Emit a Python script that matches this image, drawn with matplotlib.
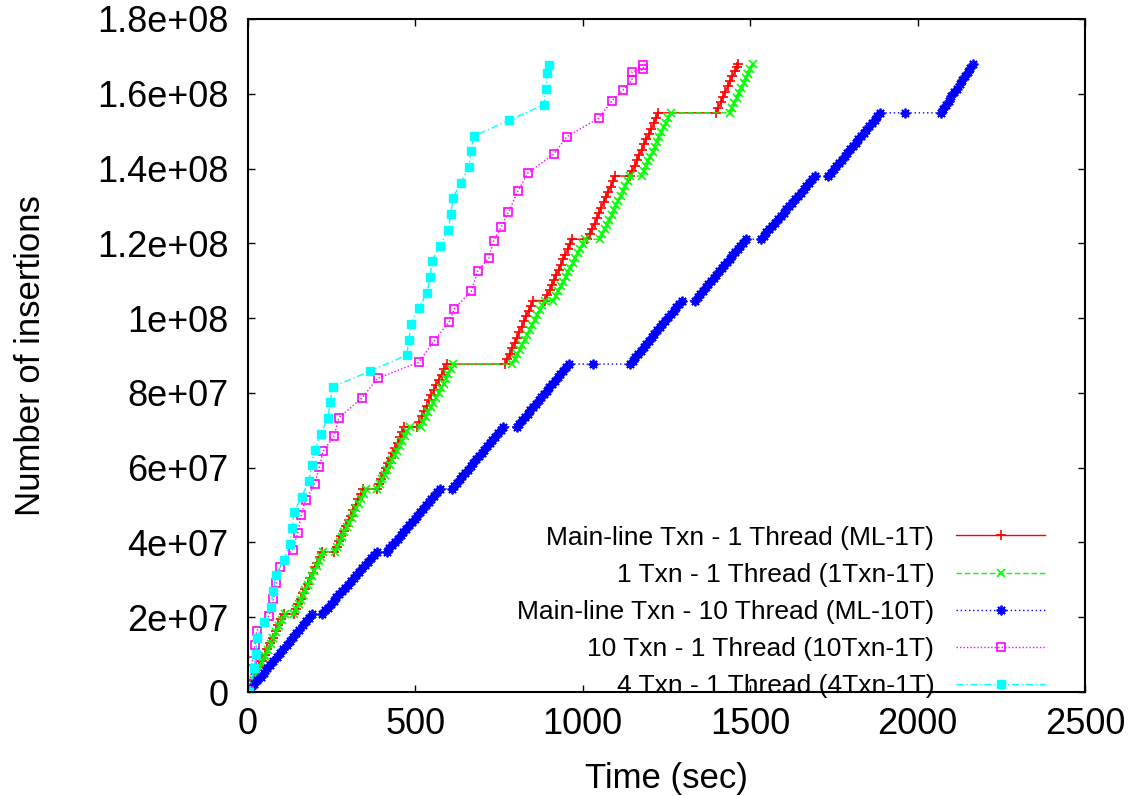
import numpy as np
import matplotlib.pyplot as plt

plt.rcParams['font.family'] = ['Liberation Sans', 'DejaVu Sans']

# insertions are kept in millions, time in seconds
ml1t_t = [0, 8, 16, 24, 33, 41, 50, 58, 66, 74, 83, 91, 99, 107, 136,
          143, 150, 157, 164, 171, 178, 186, 193, 200, 207, 214, 221, 258,
          265, 272, 279, 286, 294, 301, 308, 315, 322, 330, 337, 344, 384,
          391, 398, 405, 412, 419, 426, 433, 440, 447, 454, 460, 467, 504,
          511, 519, 526, 534, 541, 548, 556, 563, 571, 578, 586, 593, 768,
          775, 782, 789, 796, 803, 810, 817, 824, 831, 838, 845, 852, 887,
          894, 901, 907, 914, 921, 928, 934, 941, 948, 955, 961, 968, 1014,
          1021, 1028, 1035, 1042, 1049, 1055, 1062, 1069, 1076, 1083, 1090, 1097, 1141,
          1148, 1155, 1162, 1169, 1176, 1183, 1190, 1198, 1205, 1212, 1219, 1226, 1398,
          1405, 1412, 1419, 1426, 1433, 1440, 1447, 1454, 1460, 1465]
ml1t_y = [0, 1.5, 3.2, 4.8, 6.6, 8.2, 9.9, 11.4, 13.0, 14.5, 16.3, 17.8, 19.4, 20.9, 20.9,
          22.3, 23.6, 25.0, 26.4, 27.6, 29.0, 30.5, 31.9, 33.3, 34.6, 36.1, 37.5, 37.5,
          38.9, 40.3, 41.6, 43.0, 44.5, 45.9, 47.2, 48.6, 50.0, 51.5, 52.9, 54.3, 54.3,
          55.7, 57.1, 58.5, 59.8, 61.2, 62.6, 64.0, 65.3, 66.7, 68.1, 69.5, 70.9, 70.9,
          72.3, 73.7, 75.1, 76.6, 78.0, 79.4, 80.8, 82.1, 83.5, 84.9, 86.3, 87.7, 87.7,
          89.1, 90.5, 91.9, 93.4, 94.8, 96.2, 97.6, 99.1, 100.5, 101.9, 103.3, 104.7, 104.7,
          106.1, 107.4, 108.8, 110.2, 111.6, 112.9, 114.3, 115.7, 117.0, 118.4, 119.8, 121.1, 121.1,
          122.5, 123.9, 125.3, 126.7, 128.1, 129.5, 131.0, 132.4, 133.8, 135.2, 136.6, 138.0, 138.0,
          139.4, 140.8, 142.2, 143.6, 145.0, 146.5, 147.9, 149.3, 150.7, 152.1, 153.5, 154.9, 154.9,
          156.3, 157.7, 159.2, 160.6, 162.0, 163.4, 164.7, 166.0, 167.2, 168.0]

txn1_t = [0, 8, 17, 25, 34, 42, 51, 59, 68, 76, 85, 93, 102, 110, 137,
          144, 151, 157, 164, 171, 178, 185, 191, 198, 205, 212, 218, 225, 260,
          267, 274, 281, 288, 295, 303, 310, 317, 324, 331, 338, 345, 352, 386,
          394, 401, 409, 416, 424, 431, 439, 446, 454, 461, 469, 476, 484, 517,
          524, 532, 539, 547, 554, 561, 569, 576, 584, 591, 598, 606, 613, 788,
          796, 803, 811, 818, 826, 834, 841, 849, 856, 864, 872, 879, 887, 912,
          919, 927, 934, 941, 949, 956, 963, 971, 978, 985, 993, 1000, 1007, 1051,
          1058, 1065, 1072, 1079, 1086, 1093, 1100, 1106, 1113, 1120, 1127, 1134, 1141, 1176,
          1183, 1189, 1196, 1202, 1209, 1216, 1222, 1229, 1235, 1242, 1249, 1255, 1262, 1440,
          1447, 1453, 1460, 1467, 1474, 1480, 1487, 1494, 1500, 1507]
txn1_y = [0, 1.6, 3.2, 4.8, 6.4, 8.0, 9.6, 11.3, 12.9, 14.5, 16.1, 17.7, 19.3, 20.9, 20.9,
          22.2, 23.5, 24.7, 26.0, 27.3, 28.6, 29.8, 31.1, 32.4, 33.7, 35.0, 36.2, 37.5, 37.5,
          38.8, 40.1, 41.4, 42.7, 44.0, 45.3, 46.6, 47.8, 49.1, 50.4, 51.7, 53.0, 54.3, 54.3,
          55.6, 56.9, 58.1, 59.4, 60.7, 62.0, 63.3, 64.5, 65.8, 67.1, 68.4, 69.7, 70.9, 70.9,
          72.2, 73.5, 74.8, 76.1, 77.4, 78.7, 80.0, 81.2, 82.5, 83.8, 85.1, 86.4, 87.7, 87.7,
          89.0, 90.3, 91.6, 92.9, 94.2, 95.5, 96.8, 98.2, 99.5, 100.8, 102.1, 103.4, 104.7, 104.7,
          106.0, 107.2, 108.5, 109.7, 111.0, 112.3, 113.5, 114.8, 116.0, 117.3, 118.6, 119.8, 121.1, 121.1,
          122.4, 123.7, 125.0, 126.3, 127.6, 128.9, 130.2, 131.4, 132.7, 134.0, 135.3, 136.6, 138.0, 138.0,
          139.3, 140.6, 141.9, 143.2, 144.5, 145.8, 147.1, 148.4, 149.7, 151.0, 152.3, 153.6, 154.9, 154.9,
          156.2, 157.5, 158.8, 160.1, 161.5, 162.8, 164.1, 165.4, 166.7, 168.0]

ml10t_t = [0, 9, 19, 28, 38, 48, 57, 67, 76, 86, 96, 105, 115, 124, 134, 144, 153, 163, 172, 182, 192, 222,
           230, 239, 247, 256, 264, 273, 281, 290, 298, 307, 316, 324, 333, 341, 350, 358, 367, 375, 384, 414,
           422, 431, 439, 448, 456, 464, 473, 481, 489, 498, 506, 515, 523, 531, 540, 548, 556, 565, 573, 608,
           616, 624, 632, 640, 649, 657, 665, 673, 681, 690, 698, 706, 714, 722, 730, 739, 747, 755, 763, 802,
           810, 818, 827, 835, 843, 851, 859, 868, 876, 884, 892, 900, 909, 917, 925, 933, 941, 950, 958, 1031, 1141,
           1149, 1157, 1165, 1173, 1182, 1190, 1198, 1206, 1214, 1222, 1230, 1238, 1246, 1254, 1262, 1271, 1279, 1287, 1295, 1335,
           1343, 1351, 1359, 1367, 1375, 1383, 1391, 1399, 1407, 1415, 1423, 1431, 1439, 1447, 1455, 1463, 1471, 1479, 1487, 1531,
           1540, 1548, 1557, 1565, 1574, 1582, 1591, 1600, 1608, 1617, 1625, 1634, 1642, 1651, 1660, 1668, 1677, 1685, 1694, 1733,
           1741, 1749, 1757, 1766, 1774, 1782, 1790, 1798, 1806, 1815, 1823, 1831, 1839, 1847, 1855, 1864, 1872, 1880, 1888, 1962, 2069,
           2077, 2085, 2093, 2101, 2109, 2117, 2126, 2134, 2142, 2150, 2158, 2166]
ml10t_y = [0, 1.0, 2.1, 3.1, 4.1, 5.2, 6.3, 7.3, 8.3, 9.4, 10.4, 11.5, 12.5, 13.6, 14.7, 15.7, 16.7, 17.8, 18.9, 19.9, 20.9, 20.9,
           21.8, 22.6, 23.5, 24.4, 25.3, 26.1, 27.0, 27.9, 28.7, 29.6, 30.5, 31.4, 32.2, 33.1, 34.0, 34.9, 35.8, 36.6, 37.5, 37.5,
           38.4, 39.3, 40.2, 41.0, 41.9, 42.8, 43.7, 44.6, 45.5, 46.3, 47.2, 48.1, 49.0, 49.9, 50.8, 51.7, 52.5, 53.4, 54.3, 54.3,
           55.2, 56.0, 56.9, 57.8, 58.7, 59.5, 60.4, 61.3, 62.2, 63.0, 63.9, 64.8, 65.7, 66.5, 67.4, 68.3, 69.2, 70.0, 70.9, 70.9,
           71.8, 72.7, 73.6, 74.4, 75.3, 76.2, 77.1, 78.0, 78.9, 79.7, 80.6, 81.5, 82.4, 83.3, 84.2, 85.1, 85.9, 86.8, 87.7, 87.7, 87.7,
           88.6, 89.5, 90.4, 91.3, 92.2, 93.1, 94.0, 94.9, 95.8, 96.7, 97.5, 98.4, 99.3, 100.2, 101.1, 102.0, 102.9, 103.8, 104.7, 104.7,
           105.6, 106.4, 107.3, 108.2, 109.0, 109.9, 110.7, 111.6, 112.5, 113.3, 114.2, 115.1, 115.9, 116.8, 117.6, 118.5, 119.4, 120.2, 121.1, 121.1,
           122.0, 122.9, 123.8, 124.7, 125.5, 126.4, 127.3, 128.2, 129.1, 130.0, 130.9, 131.8, 132.7, 133.5, 134.4, 135.3, 136.2, 137.1, 138.0, 138.0,
           138.9, 139.8, 140.7, 141.6, 142.4, 143.3, 144.2, 145.1, 146.0, 146.9, 147.8, 148.7, 149.6, 150.4, 151.3, 152.2, 153.1, 154.0, 154.9, 154.9, 154.9,
           156.0, 157.1, 158.2, 159.3, 160.4, 161.4, 162.5, 163.6, 164.7, 165.8, 166.9, 168.0]

txn10_t = [0, 3, 13, 21, 26, 63, 76, 85, 95, 133, 149, 159, 172, 199, 213, 225, 257, 271,
           341, 387, 510, 555, 601, 616, 667, 686, 719, 734, 757, 778, 806, 837, 914, 952,
           1048, 1087, 1121, 1147, 1147, 1181, 1181]
txn10_y = [0, 0.3, 8.3, 12.6, 16.3, 20.4, 24.9, 29.2, 33.4, 38.1, 42.6, 47.4, 51.4, 55.6, 60.2, 64.5, 68.4, 73.3,
           78.7, 83.9, 88.2, 93.8, 99.0, 102.5, 107.2, 112.6, 116.0, 120.7, 124.5, 128.3, 134.0, 138.9, 143.9, 148.5,
           153.5, 158.1, 161.1, 163.6, 165.9, 166.5, 167.7]

txn4_t = [0, 3, 18, 24, 26, 48, 68, 75, 84, 108, 125, 132, 137, 160, 182, 191, 199, 217, 239, 245, 253,
          364, 474, 481, 486, 510, 535, 544, 550, 573, 597, 606, 612, 636, 660, 666, 675, 780, 884, 890, 894, 899]
txn4_y = [0, 0, 6.3, 10.2, 14.5, 18.8, 22.8, 27.1, 31.4, 35.3, 39.6, 43.9, 48.1, 52.2, 56.5, 60.7, 64.7, 69.1, 73.3, 77.5, 81.6,
          85.8, 90.1, 94.1, 98.4, 102.8, 106.8, 111.0, 115.3, 119.3, 123.5, 127.8, 132.1, 136.2, 140.5, 144.7, 148.7, 152.9, 157.1, 161.3, 165.6, 167.7]

labels = ['Main-line Txn - 1 Thread (ML-1T)', '1 Txn - 1 Thread (1Txn-1T)',
          'Main-line Txn - 10 Thread (ML-10T)', '10 Txn - 1 Thread (10Txn-1T)',
          '4 Txn - 1 Thread (4Txn-1T)']
x_ticks = [0, 500, 1000, 1500, 2000, 2500]
y_ticks = [0, 2e7, 4e7, 6e7, 8e7, 1e8, 1.2e8, 1.4e8, 1.6e8, 1.8e8]
y_ticklabels = ['0', '2e+07', '4e+07', '6e+07', '8e+07', '1e+08',
                '1.2e+08', '1.4e+08', '1.6e+08', '1.8e+08']

M = 1e6

fig = plt.figure(figsize=(11.32, 7.96), dpi=100)
ax = fig.add_axes([248 / 1132, 1 - 692 / 796, 837 / 1132, 673 / 796])

ax.plot(ml1t_t, np.array(ml1t_y) * M, color='#ff0000', lw=1.0, ls='-',
        marker='+', ms=7, mew=1.2, label=labels[0])
ax.plot(txn1_t, np.array(txn1_y) * M, color='#00ff00', lw=1.0, ls=(0, (4, 2)),
        marker='x', ms=5.5, mew=1.2, label=labels[1])
ax.plot(ml10t_t, np.array(ml10t_y) * M, color='#0000ff', lw=1.0, ls=(0, (1, 2)),
        marker=(8, 2, 0), ms=7, mew=1.3, label=labels[2])
ax.plot(txn10_t, np.array(txn10_y) * M, color='#ff00ff', lw=1.0, ls=(0, (1, 1.5)),
        marker='s', ms=6, mfc='none', mew=1.2, label=labels[3])
ax.plot(txn4_t, np.array(txn4_y) * M, color='#00ffff', lw=1.0, ls=(0, (5, 2, 1, 2)),
        marker='s', ms=5.5, label=labels[4])

ax.set_xlim(0, 2500)
ax.set_ylim(0, 1.8e8)
ax.set_xticks(x_ticks)
ax.set_xticklabels([str(v) for v in x_ticks])
ax.set_yticks(y_ticks)
ax.set_yticklabels(y_ticklabels)
ax.tick_params(direction='in', length=5, width=1, labelsize=26,
               top=True, right=True)
ax.tick_params(axis='y', pad=14)
ax.tick_params(axis='x', pad=11)
for s in ax.spines.values():
    s.set_linewidth(1.5)

ax.set_xlabel('Time (sec)', fontsize=25, labelpad=14)
ax.set_ylabel('Number of insertions', fontsize=25, labelpad=36)

ax.legend(loc='lower right', bbox_to_anchor=(0.952, -0.0095), frameon=False,
          markerfirst=False, numpoints=1, fontsize=19, handlelength=3.35,
          handletextpad=0.84, labelspacing=0.5, borderpad=0, borderaxespad=0)

plt.savefig('out.png', dpi=100)
